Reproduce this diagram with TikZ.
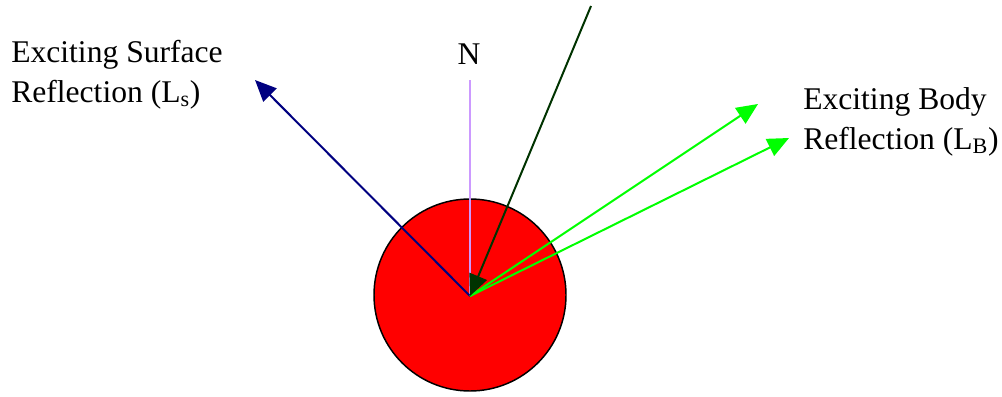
\documentclass[tikz,border=0pt]{standalone}
\usepackage{fontspec}
\setmainfont{Liberation Serif}
\usetikzlibrary{arrows.meta}
\definecolor{navyc}{RGB}{0,0,128}
\definecolor{darkg}{RGB}{0,51,0}
\definecolor{lav}{RGB}{204,153,255}
\definecolor{brightg}{RGB}{0,255,0}
\begin{document}
\begin{tikzpicture}[x=0.75pt,y=-0.75pt,
  lbl/.style={font=\fontsize{23.7}{30}\selectfont, inner sep=0pt, align=left},
  ball/.style={circle, draw=black, line width=1.1pt, fill=red, minimum size=144pt, inner sep=0pt},
  tip/.style={-{Triangle[length=16pt,width=14pt]}},
  ray/.style={line width=1.5pt}]
\useasboundingbox (0,0) rectangle (1002,396);
\node[ball] (ball) at (470,295) {};
\coordinate (c) at (470,296);
\coordinate (ntop) at (470,80);
\coordinate (src) at (591,6);
\coordinate (ls) at (255,80);
\coordinate (lb1) at (758,104);
\coordinate (lb2) at (789,138);
\node[lbl, anchor=base west] (lsl) at (11,102) {Exciting Surface\\Reflection (L\textsubscript{s})};
\node[lbl, anchor=base west] (lbl) at (803,149) {Exciting Body\\Reflection (L\textsubscript{B})};
\node[lbl, anchor=base] (nl) at (469,64) {N};
\draw[lav, line width=1.2pt] (c) -- (ntop);
\draw[ray, navyc, tip] (c) -- (ls);
\draw[ray, brightg, tip] (c) -- (lb1);
\draw[ray, brightg, tip] (c) -- (lb2);
\draw[ray, darkg, tip] (src) -- (c);
\end{tikzpicture}
\end{document}
